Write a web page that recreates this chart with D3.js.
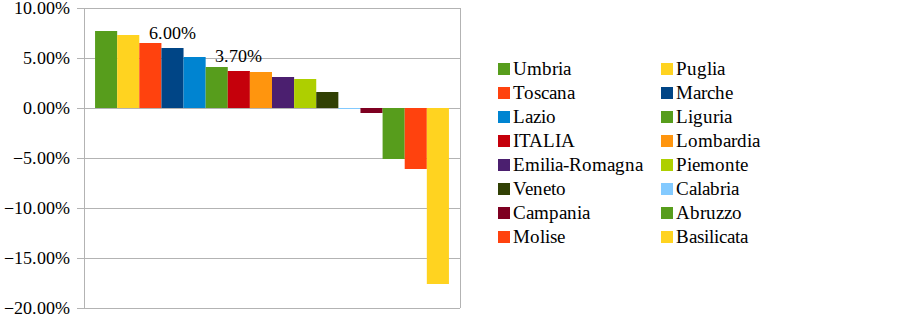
<!DOCTYPE html>
<html>
<head>
<meta charset="utf-8">
<script src="https://cdn.jsdelivr.net/npm/d3@7"></script>
<style>
  @font-face { font-family: "ChartSerif"; src: local("Liberation Serif"), local("LiberationSerif"), local("Tinos"); }
</style>
</head>
<body style="margin:0">
<script>
/* DATA */
const regions = ["Umbria", "Puglia", "Toscana", "Marche", "Lazio", "Liguria", "ITALIA", "Lombardia",
  "Emilia-Romagna", "Piemonte", "Veneto", "Calabria", "Campania", "Abruzzo", "Molise", "Basilicata"];
const values = [7.7, 7.3, 6.5, 6.0, 5.1, 4.1, 3.7, 3.6, 3.1, 2.9, 1.6, -0.1, -0.5, -5.1, -6.1, -17.6];
const colors = ["#579d1c", "#ffd320", "#ff420e", "#004586", "#0084d1", "#579d1c", "#c5000b", "#ff950e",
  "#4b1f6f", "#aecf00", "#314004", "#83caff", "#7e0021", "#579d1c", "#ff420e", "#ffd320"];
const yTicks = [10, 5, 0, -5, -10, -15, -20];
const labelled = ["Marche", "ITALIA"]; // bars with a value label

/* LAYOUT */
const width = 903, height = 315;
const margin = { top: 8, bottom: 7, left: 84, right: 443 };
const fontName = "ChartSerif";

const svg = d3.select("body").append("svg")
  .attr("width", width)
  .attr("height", height);

const xScale = d3.scaleBand()
  .domain(regions)
  .range([margin.left, width - margin.right])
  .paddingInner(0)
  .paddingOuter(0.5);

const yScale = d3.scaleLinear()
  .domain([-20, 10])
  .range([height - margin.bottom, margin.top]);

const fmt = d => d3.format(".2f")(d) + "%";

// gridlines
svg.selectAll("line.grid")
  .data(yTicks)
  .join("line")
  .attr("class", "grid")
  .attr("x1", margin.left - 7)
  .attr("x2", width - margin.right)
  .attr("y1", d => Math.round(yScale(d)) + 0.5)
  .attr("y2", d => Math.round(yScale(d)) + 0.5)
  .attr("stroke", "#b3b3b3");

// left & right frame
svg.selectAll("line.frame")
  .data([margin.left, width - margin.right])
  .join("line")
  .attr("class", "frame")
  .attr("x1", d => d + 0.5)
  .attr("x2", d => d + 0.5)
  .attr("y1", yScale(10))
  .attr("y2", yScale(-20))
  .attr("stroke", "#b3b3b3");

// bars
svg.selectAll("rect.bar")
  .data(regions)
  .join("rect")
  .attr("class", "bar")
  .attr("x", d => xScale(d))
  .attr("width", xScale.bandwidth())
  .attr("y", (d, i) => yScale(Math.max(0, values[i])))
  .attr("height", (d, i) => Math.abs(yScale(values[i]) - yScale(0)))
  .attr("fill", (d, i) => colors[i]);

// y tick labels
svg.selectAll("text.tick")
  .data(yTicks)
  .join("text")
  .attr("class", "tick")
  .attr("font-family", fontName)
  .attr("font-size", 18)
  .attr("x", margin.left - 14)
  .attr("y", d => yScale(d) + 6)
  .attr("text-anchor", "end")
  .text(fmt);

// value labels
svg.selectAll("text.value")
  .data(labelled)
  .join("text")
  .attr("class", "value")
  .attr("font-family", fontName)
  .attr("font-size", 18)
  .attr("x", d => xScale(d) + xScale.bandwidth() / 2)
  .attr("y", d => yScale(values[regions.indexOf(d)]) - 9)
  .attr("text-anchor", "middle")
  .text(d => fmt(values[regions.indexOf(d)]));

// legend, two columns
const legendX = i => (i % 2 === 0 ? 498 : 661);
const legendY = i => 69 + Math.floor(i / 2) * 24;

svg.selectAll("rect.swatch")
  .data(regions)
  .join("rect")
  .attr("class", "swatch")
  .attr("x", (d, i) => legendX(i))
  .attr("y", (d, i) => legendY(i) - 6)
  .attr("width", 12)
  .attr("height", 12)
  .attr("fill", (d, i) => colors[i]);

svg.selectAll("text.legend")
  .data(regions)
  .join("text")
  .attr("class", "legend")
  .attr("font-family", fontName)
  .attr("font-size", 19)
  .attr("x", (d, i) => legendX(i) + 15)
  .attr("y", (d, i) => legendY(i) + 6)
  .text(d => d);
</script>
</body>
</html>
